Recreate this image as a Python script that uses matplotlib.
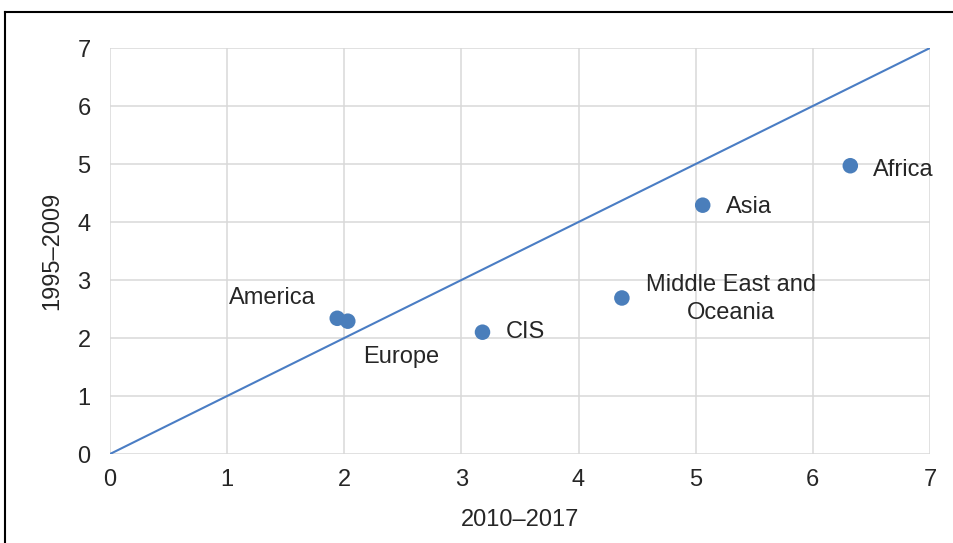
import matplotlib.pyplot as plt
from matplotlib.lines import Line2D

regions = ['America', 'Europe', 'CIS', 'Middle East and\nOceania', 'Asia', 'Africa']
x_2010_2017 = [1.94, 2.03, 3.18, 4.37, 5.06, 6.32]
y_1995_2009 = [2.34, 2.29, 2.10, 2.69, 4.29, 4.97]
# label offsets in pixels (dx, dy, ha)
offsets = [(-22, 20, 'right'), (15, -36, 'left'), (23, 0, 'left'),
           (109, -1, 'center'), (23, -2, 'left'), (23, -4, 'left')]
diag = [0, 7]

plt.rcParams['font.family'] = ['Liberation Sans', 'DejaVu Sans']
fig = plt.figure(figsize=(9.54, 5.43), dpi=100)
ax = fig.add_axes([0.1153, 0.1639, 0.8595, 0.7477])

fs = 17
ax.plot(diag, diag, color='#4a7dc4', lw=1.5, zorder=2)
ax.scatter(x_2010_2017, y_1995_2009, s=125, color='#4a7ebb', zorder=3, edgecolors='none')
for name, x, y, (dx, dy, ha) in zip(regions, x_2010_2017, y_1995_2009, offsets):
    ax.annotate(name, (x, y), xytext=(dx, dy), textcoords='offset pixels',
                ha=ha, va='center', multialignment='center', fontsize=fs,
                color='#262626', linespacing=1.35)

ax.set_xlim(0, 7)
ax.set_ylim(0, 7)
ax.set_xticks(range(8))
ax.set_yticks(range(8))
ax.grid(True, color='#d9d9d9', lw=1.1)
ax.set_axisbelow(True)
for s in ax.spines.values():
    s.set_visible(False)
ax.tick_params(length=0, labelsize=fs, labelcolor='#262626')
ax.tick_params(axis='y', pad=14)
ax.tick_params(axis='x', pad=11)
ax.set_xlabel('2010–2017', fontsize=fs, color='#262626', labelpad=13)
ax.set_ylabel('1995–2009', fontsize=fs, color='#262626', labelpad=10)

# frame around the chart (top and left edges visible)
fig.add_artist(Line2D([0.0055, 1.0], [0.978, 0.978], color='black', lw=1.5, transform=fig.transFigure))
fig.add_artist(Line2D([0.0055, 0.0055], [0.0, 0.978], color='black', lw=1.5, transform=fig.transFigure))

fig.savefig('out.png', dpi=100)
